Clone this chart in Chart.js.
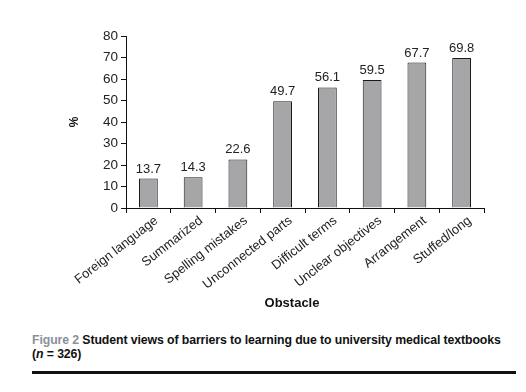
<!DOCTYPE html>
<html>
<head>
<meta charset="utf-8">
<script src="https://cdn.jsdelivr.net/npm/chart.js@4/dist/chart.umd.min.js"></script>
<style>
  html, body { margin: 0; padding: 0; background: #fff; }
  #wrap { position: relative; width: 526px; height: 392px; }
  #chartBox { position: absolute; left: 0; top: 0; width: 526px; height: 320px; }
  #caption { position: absolute; left: 32px; top: 333px; width: 490px; white-space: nowrap; font-family: "Liberation Sans", Arial, sans-serif; font-size: 12.3px; line-height: 14px; font-weight: bold; color: #111; letter-spacing: -0.1px; }
  #caption .fig { color: #8a909a; }
  #rule { position: absolute; left: 32px; top: 371px; width: 484px; height: 3px; background: #111; }
</style>
</head>
<body>
<div id="wrap">
  <div id="chartBox"><canvas id="c"></canvas></div>
  <div id="caption"><span class="fig">Figure 2</span> Student views of barriers to learning due to university medical textbooks<br>(<i>n</i> = 326)</div>
  <div id="rule"></div>
</div>
<script>
const categories = ["Foreign language", "Summarized", "Spelling mistakes", "Unconnected parts", "Difficult terms", "Unclear objectives", "Arrangement", "Stuffed/long"];
const percentValues = [13.7, 14.3, 22.6, 49.7, 56.1, 59.5, 67.7, 69.8];
const yTicks = [0, 10, 20, 30, 40, 50, 60, 70, 80];
const xAxisTitle = "Obstacle";
const yAxisTitle = "%";

const FONT = "'Liberation Sans', Arial, sans-serif";

const valueLabels = {
  id: 'valueLabels',
  afterDatasetsDraw(chart) {
    const ctx = chart.ctx;
    const meta = chart.getDatasetMeta(0);
    ctx.save();
    ctx.font = "13px " + FONT;
    ctx.fillStyle = "#222";
    ctx.textAlign = "center";
    ctx.textBaseline = "bottom";
    meta.data.forEach((bar, i) => {
      ctx.fillText(percentValues[i].toFixed(1), bar.x, bar.y - 3);
    });
    ctx.restore();
  }
};

const xTitle = {
  id: 'xTitle',
  afterDraw(chart) {
    const ctx = chart.ctx;
    const xs = chart.scales.x;
    ctx.save();
    ctx.font = "bold 13px " + FONT;
    ctx.fillStyle = "#111";
    ctx.textAlign = "center";
    ctx.textBaseline = "middle";
    ctx.fillText(xAxisTitle, (xs.left + xs.right) / 2 - 13, 303);
    ctx.restore();
  }
};

new Chart(document.getElementById('c'), {
  type: 'bar',
  data: {
    labels: categories,
    datasets: [{
      data: percentValues,
      backgroundColor: '#a6a6a8',
      borderColor: '#1a1a1a',
      borderWidth: 1,
      barPercentage: 0.42,
      categoryPercentage: 1.0
    }]
  },
  options: {
    responsive: true,
    maintainAspectRatio: false,
    animation: false,
    layout: { padding: { left: 0, right: 42, top: 36, bottom: 0 } },
    plugins: { legend: { display: false }, tooltip: { enabled: false } },
    scales: {
      x: {
        grid: { display: true, drawOnChartArea: false, drawTicks: true, tickLength: 5, color: '#111', offset: true },
        border: { display: true, color: '#111', width: 1 },
        ticks: { font: { family: FONT, size: 13 }, color: '#222', maxRotation: 38, minRotation: 38, labelOffset: 8, padding: 0, autoSkip: false },
        afterFit(scale) { scale.height = 112; }
      },
      y: {
        min: 0, max: 80,
        afterBuildTicks(scale) { scale.ticks = yTicks.map(v => ({ value: v })); },
        grid: { display: true, drawOnChartArea: false, drawTicks: true, tickLength: 5, color: '#111' },
        border: { display: true, color: '#111', width: 1 },
        ticks: { font: { family: FONT, size: 13.5 }, color: '#222', padding: 3 },
        title: { display: true, text: yAxisTitle, font: { family: FONT, size: 12, weight: 'bold' }, color: '#111', padding: { top: 67, bottom: 0 } },
        afterFit(scale) { scale.width = 126; }
      }
    }
  },
  plugins: [valueLabels, xTitle]
});
</script>
</body>
</html>
